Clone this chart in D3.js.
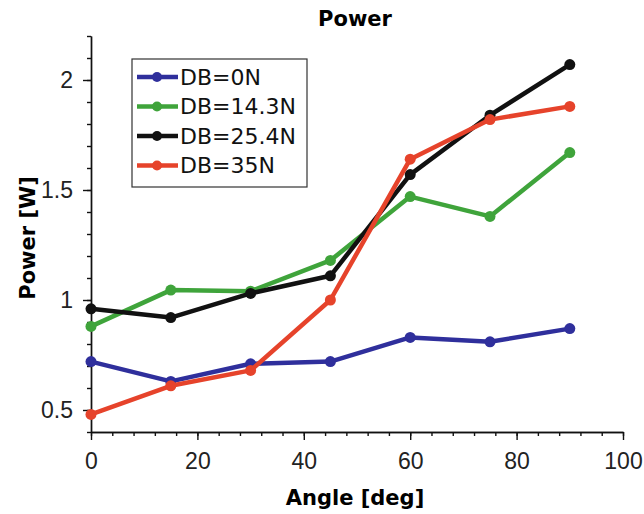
<!DOCTYPE html>
<html>
<head>
<meta charset="utf-8">
<script src="https://cdn.jsdelivr.net/npm/d3@7"></script>
<style>
  body { margin: 0; background: #fff; }
  .axis path, .axis line { stroke: #111; stroke-width: 1.4; }
</style>
</head>
<body>
<script>
// data
var angles = [0, 15, 30, 45, 60, 75, 90];
var seriesNames = ["DB=0N", "DB=14.3N", "DB=25.4N", "DB=35N"];
var db0 = [0.72, 0.63, 0.71, 0.72, 0.83, 0.81, 0.87];
var db143 = [0.88, 1.045, 1.04, 1.18, 1.47, 1.38, 1.67];
var db254 = [0.96, 0.92, 1.03, 1.11, 1.57, 1.84, 2.07];
var db35 = [0.48, 0.61, 0.68, 1.0, 1.64, 1.82, 1.88];
var colors = ["#2f2f9c", "#3fa43b", "#111111", "#e6432b"];
var xTicks = [0, 20, 40, 60, 80, 100];
var yTicks = [0.5, 1, 1.5, 2];

var series = [db0, db143, db254, db35];

var width = 644, height = 514;
var margin = {top: 36, right: 21, bottom: 82, left: 91};

var svg = d3.select("body").append("svg")
  .attr("width", width)
  .attr("height", height);

var x = d3.scaleLinear().domain([0, 100]).range([margin.left, width - margin.right]);
var y = d3.scaleLinear().domain([0.4, 2.2]).range([height - margin.bottom, margin.top]);

// minor ticks first, then major
svg.append("g").attr("class", "axis")
  .attr("transform", "translate(0," + y(0.4) + ")")
  .call(d3.axisBottom(x).tickValues(d3.range(0, 101, 4)).tickSize(4).tickSizeOuter(0).tickFormat(""));
var xAxis = svg.append("g").attr("class", "axis")
  .attr("transform", "translate(0," + y(0.4) + ")")
  .call(d3.axisBottom(x).tickValues(xTicks).tickSize(8).tickSizeOuter(0).tickPadding(11));
xAxis.selectAll("text").attr("dy", "0.78em");

svg.append("g").attr("class", "axis")
  .attr("transform", "translate(" + x(0) + ",0)")
  .call(d3.axisLeft(y).tickValues(d3.range(4, 23).map(function(d) { return d / 10; })).tickSize(4).tickSizeOuter(0).tickFormat(""));
var yAxis = svg.append("g").attr("class", "axis")
  .attr("transform", "translate(" + x(0) + ",0)")
  .call(d3.axisLeft(y).tickValues(yTicks).tickSize(8).tickSizeOuter(0).tickPadding(10).tickFormat(d3.format("")));

svg.selectAll(".tick text")
  .style("font-family", "Liberation Sans, Arial, sans-serif")
  .style("font-size", "23px")
  .style("fill", "#222");

// title and axis labels
svg.append("text")
  .attr("x", 355).attr("y", 26)
  .attr("text-anchor", "middle")
  .style("font-family", "DejaVu Sans, sans-serif")
  .style("font-weight", "bold")
  .style("font-size", "21px")
  .text("Power");

svg.append("text")
  .attr("x", 355).attr("y", 505)
  .attr("text-anchor", "middle")
  .style("font-family", "DejaVu Sans, sans-serif")
  .style("font-weight", "bold")
  .style("font-size", "21px")
  .text("Angle [deg]");

svg.append("text")
  .attr("transform", "translate(35,238) rotate(-90)")
  .attr("text-anchor", "middle")
  .style("font-family", "DejaVu Sans, sans-serif")
  .style("font-weight", "bold")
  .style("font-size", "21px")
  .text("Power [W]");

// lines + markers
var line = d3.line()
  .x(function(d, i) { return x(angles[i]); })
  .y(function(d) { return y(d); });

series.forEach(function(s, k) {
  var g = svg.append("g");
  g.append("path")
    .attr("d", line(s))
    .attr("fill", "none")
    .attr("stroke", colors[k])
    .attr("stroke-width", 4.5)
    .attr("stroke-linejoin", "round");
  g.selectAll("circle")
    .data(s)
    .enter()
    .append("circle")
    .attr("cx", function(d, i) { return x(angles[i]); })
    .attr("cy", function(d) { return y(d); })
    .attr("r", 5.5)
    .attr("fill", colors[k]);
});

// legend
var legend = svg.append("g");
legend.append("rect")
  .attr("x", 132).attr("y", 59)
  .attr("width", 175).attr("height", 128)
  .attr("fill", "#fff")
  .attr("stroke", "#333")
  .attr("stroke-width", 1.2);

var rows = legend.selectAll("g.row")
  .data(seriesNames)
  .enter()
  .append("g")
  .attr("transform", function(d, i) { return "translate(0," + (77 + i * 29.5) + ")"; });

rows.append("line")
  .attr("x1", 137).attr("x2", 178)
  .attr("stroke", function(d, i) { return colors[i]; })
  .attr("stroke-width", 4.5);
rows.append("circle")
  .attr("cx", 157).attr("r", 5)
  .attr("fill", function(d, i) { return colors[i]; });
rows.append("text")
  .attr("x", 180).attr("dy", "0.36em")
  .style("font-family", "DejaVu Sans, sans-serif")
  .style("font-size", "22px")
  .style("fill", "#111")
  .text(function(d) { return d; });
</script>
</body>
</html>
